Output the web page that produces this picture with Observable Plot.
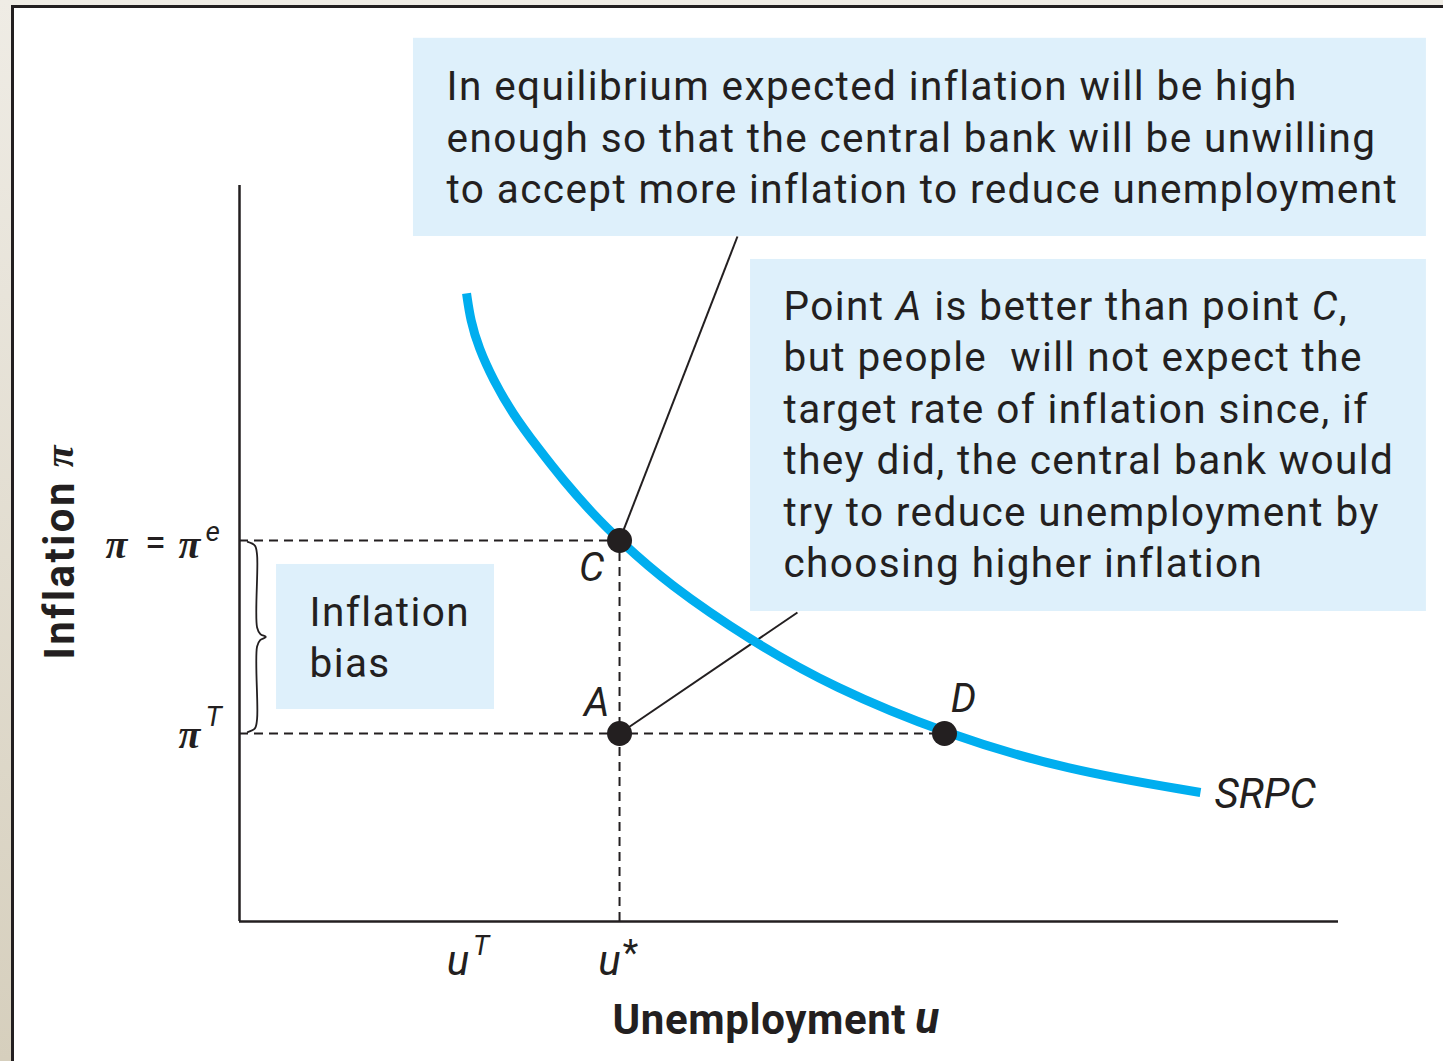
<!DOCTYPE html>
<html><head><meta charset="utf-8">
<script src="https://cdn.jsdelivr.net/npm/d3@7"></script>
<script src="https://cdn.jsdelivr.net/npm/@observablehq/plot@0.6"></script>
<style>
html,body{margin:0;padding:0;}
body{width:1443px;height:1061px;overflow:hidden;position:relative;background:linear-gradient(#efece5,#d6cfbd);}
#panel{position:absolute;left:11px;top:5px;right:0;bottom:0;background:#fff;border-left:3px solid #231f20;border-top:3px solid #231f20;}
#chart{position:absolute;left:0;top:0;}
.ls-body text{letter-spacing:1.4px;}
.ls-x text{letter-spacing:0.6px;}
.ls-y text{letter-spacing:2.5px;}
.box2 text{white-space:pre;}
</style></head><body><div id="panel"></div><div id="chart"></div>
<script>
// SRPC curve (unemployment u, inflation pi)
const srpcU  = [2.066, 2.102, 2.175, 2.311, 2.484, 2.712, 2.948, 3.212, 3.458, 3.894, 4.650, 5.405, 6.415, 7.534, 8.744];
const srpcPi = [8.533, 8.166, 7.799, 7.351, 6.902, 6.440, 5.992, 5.543, 5.177, 4.592, 3.818, 3.179, 2.554, 2.052, 1.753];
// labelled points
const pointNames = ["C", "A", "D"];
const pointU  = [3.458, 3.458, 6.415];
const pointPi = [5.177, 2.554, 2.554];
// tick values
const uStar = 3.458, uTarget = 2.08, piE = 5.177, piTarget = 2.554;
const box1Text = "In equilibrium expected inflation will be high\nenough so that the central bank will be unwilling\nto accept more inflation to reduce unemployment";
const box2Text = "Point A is better than point C,\nbut people  will not expect the\ntarget rate of inflation since, if\nthey did, the central bank would\ntry to reduce unemployment by\nchoosing higher inflation";
const box3Text = "Inflation\nbias";

const ink = "#231f20", boxFill = "#def0fb", blue = "#00aeef";
const font = "Roboto, 'Open Sans', sans-serif";
const serif = "'Liberation Serif', 'DejaVu Serif', serif";

const curve = srpcU.map((u, i) => ({u, pi: srpcPi[i]}));
const pts = pointNames.map((n, i) => ({n, u: pointU[i], pi: pointPi[i]}));
const ptC = pts[0], ptA = pts[1], ptD = pts[2];

// brace between piTarget and piE, built from those values
const bx0 = 0.075, bx1 = 0.16, bx2 = 0.24;
const mid = (piE + piTarget) / 2, k = 0.13;
const brace = [
  {u: bx0, pi: piE - 0.02}, {u: bx1 - 0.02, pi: piE - 0.07}, {u: bx1, pi: piE - 0.2},
  {u: bx1, pi: mid + k}, {u: bx1 + 0.03, pi: mid + 0.04}, {u: bx2, pi: mid},
  {u: bx1 + 0.03, pi: mid - 0.04}, {u: bx1, pi: mid - k},
  {u: bx1, pi: piTarget + 0.2}, {u: bx1 - 0.02, pi: piTarget + 0.07}, {u: bx0, pi: piTarget + 0.02}
];

const boxes = [
  {x1: 1.583, x2: 10.80, y1: 9.307, y2: 12.0},
  {x1: 4.650, x2: 10.80, y1: 4.212, y2: 8.995},
  {x1: 0.337, x2: 2.320, y1: 2.880, y2: 4.851}
];
const leaders = [
  {x1: ptC.u, y1: ptC.pi, x2: 4.531, y2: 9.307},
  {x1: ptA.u, y1: ptA.pi, x2: 5.077, y2: 4.198}
];

const ptLabel = (p, dx, dy) => Plot.text([p], {x: "u", y: "pi", text: "n", dx, dy,
  fontFamily: font, fontStyle: "italic", fontSize: 40, fill: ink});
const dash = {stroke: ink, strokeWidth: 2, strokeDasharray: "9,6"};
const piStyle = {fontFamily: serif, fontStyle: "italic", fontWeight: "bold", fontSize: 40, fill: ink};

const chart = Plot.plot({
  width: 1443, height: 1061,
  marginLeft: 239, marginRight: 105, marginTop: 185, marginBottom: 140,
  x: {domain: [0, 10], axis: null},
  y: {domain: [0, 10], axis: null},
  style: {background: "transparent", overflow: "visible"},
  marks: [
    Plot.rect(boxes, {x1: "x1", x2: "x2", y1: "y1", y2: "y2", fill: boxFill}),
    Plot.link(leaders, {x1: "x1", y1: "y1", x2: "x2", y2: "y2", stroke: ink, strokeWidth: 2}),
    Plot.ruleY([piE], {x1: 0, x2: uStar, ...dash}),
    Plot.ruleY([piTarget], {x1: 0, x2: ptD.u, ...dash}),
    Plot.ruleX([uStar], {y1: 0, y2: piE, ...dash}),
    Plot.ruleX([0], {stroke: ink, strokeWidth: 2.5}),
    Plot.ruleY([0], {stroke: ink, strokeWidth: 2.5}),
    Plot.line(brace, {x: "u", y: "pi", curve: "catmull-rom", stroke: ink, strokeWidth: 1.8}),
    Plot.line(curve, {x: "u", y: "pi", curve: "basis", stroke: blue, strokeWidth: 9, strokeLinecap: "butt"}),
    Plot.dot(pts, {x: "u", y: "pi", r: 12.5, fill: ink, stroke: "none"}),
    // point labels
    ptLabel(ptC, -28, 28),
    ptLabel(ptA, -23, -30),
    ptLabel(ptD, 19, -34),
    Plot.text(["SRPC"], {x: srpcU[srpcU.length - 1], y: srpcPi[srpcPi.length - 1], dx: 14, dy: 2, textAnchor: "start",
      fontFamily: font, fontStyle: "italic", fontSize: 42, fill: ink}),
    // box texts
    Plot.text([box1Text], {x: 1.884, y: 11.655, textAnchor: "start", lineAnchor: "top", lineHeight: 1.27,
      fontFamily: font, fontSize: 40.5, fill: ink, className: "ls-body"}),
    Plot.text([box2Text], {x: 4.950, y: 8.668, textAnchor: "start", lineAnchor: "top", lineHeight: 1.27,
      fontFamily: font, fontSize: 40.5, fill: ink, className: "box2 ls-body"}),
    Plot.text([box3Text], {x: 0.637, y: 4.51, textAnchor: "start", lineAnchor: "top", lineHeight: 1.26,
      fontFamily: font, fontSize: 40.5, fill: ink, className: "ls-body"}),
    // y tick labels
    Plot.text(["π"], {x: 0, y: piE, dx: -123, dy: 5, ...piStyle}),
    Plot.text(["="], {x: 0, y: piE, dx: -84, dy: 3, fontFamily: font, fontSize: 38, fill: ink}),
    Plot.text(["π"], {x: 0, y: piE, dx: -50, dy: 5, ...piStyle}),
    Plot.text(["e"], {x: 0, y: piE, dx: -34, dy: -8, textAnchor: "start", fontFamily: font, fontStyle: "italic", fontSize: 28, fill: ink}),
    Plot.text(["π"], {x: 0, y: piTarget, dx: -50, dy: 2, ...piStyle}),
    Plot.text(["T"], {x: 0, y: piTarget, dx: -34, dy: -16, textAnchor: "start", fontFamily: font, fontStyle: "italic", fontSize: 28, fill: ink}),
    // x tick labels
    Plot.text(["u"], {x: uTarget, y: 0, dx: -10, dy: 40, fontFamily: font, fontStyle: "italic", fontSize: 42, fill: ink}),
    Plot.text(["T"], {x: uTarget, y: 0, dx: 13, dy: 25, fontFamily: font, fontStyle: "italic", fontSize: 28, fill: ink}),
    Plot.text(["u"], {x: uStar, y: 0, dx: -10, dy: 40, fontFamily: font, fontStyle: "italic", fontSize: 42, fill: ink}),
    Plot.text(["*"], {x: uStar, y: 0, dx: 11, dy: 32, fontFamily: font, fontSize: 36, fill: ink}),
    // axis titles
    Plot.text(["Unemployment"], {x: 4.73, y: 0, dy: 99, fontFamily: font, fontWeight: "bold", fontSize: 42, fill: ink, className: "ls-x"}),
    Plot.text(["u"], {x: 4.73, y: 0, dx: 168, dy: 97, fontFamily: font, fontWeight: "bold", fontStyle: "italic", fontSize: 44, fill: ink}),
    Plot.text(["Inflation"], {x: 0, y: 4.78, dx: -179, rotate: -90, fontFamily: font, fontWeight: "bold", fontSize: 42, fill: ink, className: "ls-y"}),
    Plot.text(["π"], {x: 0, y: 6.32, dx: -179, rotate: -90, ...piStyle})
  ]
});
document.getElementById("chart").appendChild(chart);
// italic A and C inside the second box
const t2 = chart.querySelector(".box2 text");
if (t2) {
  const first = t2.querySelector("tspan");
  if (first) first.innerHTML = 'Point <tspan font-style="italic">A</tspan> is better than point <tspan font-style="italic">C</tspan>,';
}
</script></body></html>
